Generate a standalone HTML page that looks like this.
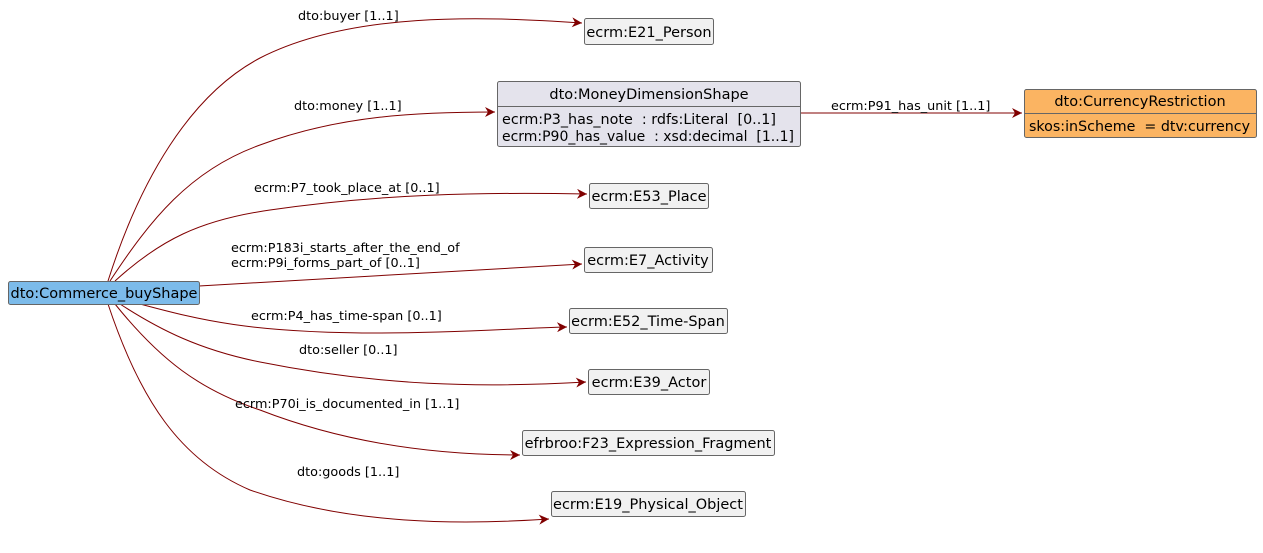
<!DOCTYPE html>
<html><head><meta charset="utf-8"><style>
html,body{margin:0;padding:0;background:#fff;}
svg text{font-family:"DejaVu Sans","Liberation Sans",sans-serif;white-space:pre;}
</style></head><body>
<svg width="1263" height="548" viewBox="0 0 1263 548" xmlns="http://www.w3.org/2000/svg">
<defs>
<marker id="a" markerWidth="12" markerHeight="10" refX="10" refY="5" orient="auto" markerUnits="userSpaceOnUse">
<path d="M0,0 L10,5 L0,10 L3,5 Z" fill="#800000"/>
</marker>
</defs>
<g fill="none" stroke="#800000" stroke-width="1" marker-end="url(#a)">
<path d="M108,281 C140,180 190,95 260,58 C350,12 480,16 582,23"/>
<path d="M110,281 C150,220 190,170 260,145 C340,115 420,112 495,112"/>
<path d="M115,281 C160,240 200,220 270,210 C380,194 480,192 587,194"/>
<path d="M199,286 L582,264"/>
<path d="M140,304 C200,320 250,333 380,333 C460,333 520,328 567,327"/>
<path d="M120,304 C160,330 200,350 260,362 C380,386 480,388 586,382"/>
<path d="M115,304 C160,360 200,390 260,410 C350,445 440,455 520,455"/>
<path d="M108,304 C140,400 180,460 250,490 C350,525 460,525 549,519"/>
<path d="M800,113 L1022,113"/>
</g>
<g font-size="12.8" fill="#000">
<text x="298" y="20">dto:buyer [1..1]</text>
<text x="294" y="110">dto:money [1..1]</text>
<text x="254" y="192">ecrm:P7_took_place_at [0..1]</text>
<text x="231" y="252">ecrm:P183i_starts_after_the_end_of</text>
<text x="231" y="267">ecrm:P9i_forms_part_of [0..1]</text>
<text x="251" y="320">ecrm:P4_has_time-span [0..1]</text>
<text x="299" y="354">dto:seller [0..1]</text>
<text x="235" y="408">ecrm:P70i_is_documented_in [1..1]</text>
<text x="297" y="476">dto:goods [1..1]</text>
<text x="831" y="110">ecrm:P91_has_unit [1..1]</text>
</g>
<g stroke="#666" stroke-width="1" fill="#f1f1f1">
<rect x="584.5" y="18.5" width="129" height="26" rx="2"/>
<rect x="589.5" y="183.5" width="119" height="25" rx="2"/>
<rect x="584.5" y="247.5" width="128" height="25" rx="2"/>
<rect x="569.5" y="308.5" width="158" height="25" rx="2"/>
<rect x="588.5" y="369.5" width="121" height="25" rx="2"/>
<rect x="522.5" y="430.5" width="252" height="25" rx="2"/>
<rect x="551.5" y="491.5" width="194" height="25" rx="2"/>
<rect x="497.5" y="81.5" width="303" height="65" rx="2" fill="#e4e3ec"/>
<line x1="497.5" y1="106.5" x2="800.5" y2="106.5"/>
<rect x="1024.5" y="89.5" width="232" height="48" rx="2" fill="#fbb462"/>
<line x1="1024.5" y1="113.5" x2="1256.5" y2="113.5"/>
<rect x="8.5" y="281.5" width="191" height="23" rx="2" fill="#7cbbea"/>
</g>
<g font-size="14.5" fill="#000">
<text x="649" y="37" text-anchor="middle">ecrm:E21_Person</text>
<text x="649" y="201" text-anchor="middle">ecrm:E53_Place</text>
<text x="648" y="265" text-anchor="middle">ecrm:E7_Activity</text>
<text x="648" y="326" text-anchor="middle">ecrm:E52_Time-Span</text>
<text x="649" y="387" text-anchor="middle">ecrm:E39_Actor</text>
<text x="648" y="448" text-anchor="middle">efrbroo:F23_Expression_Fragment</text>
<text x="648" y="509" text-anchor="middle">ecrm:E19_Physical_Object</text>
<text x="649" y="99" text-anchor="middle">dto:MoneyDimensionShape</text>
<text x="502" y="124" textLength="274" lengthAdjust="spacingAndGlyphs">ecrm:P3_has_note  : rdfs:Literal  [0..1]</text>
<text x="502" y="141" textLength="292" lengthAdjust="spacingAndGlyphs">ecrm:P90_has_value  : xsd:decimal  [1..1]</text>
<text x="1140" y="106" text-anchor="middle">dto:CurrencyRestriction</text>
<text x="1029" y="131" textLength="221" lengthAdjust="spacingAndGlyphs">skos:inScheme  = dtv:currency</text>
<text x="104" y="298" text-anchor="middle">dto:Commerce_buyShape</text>
</g>
</svg>
</body></html>
